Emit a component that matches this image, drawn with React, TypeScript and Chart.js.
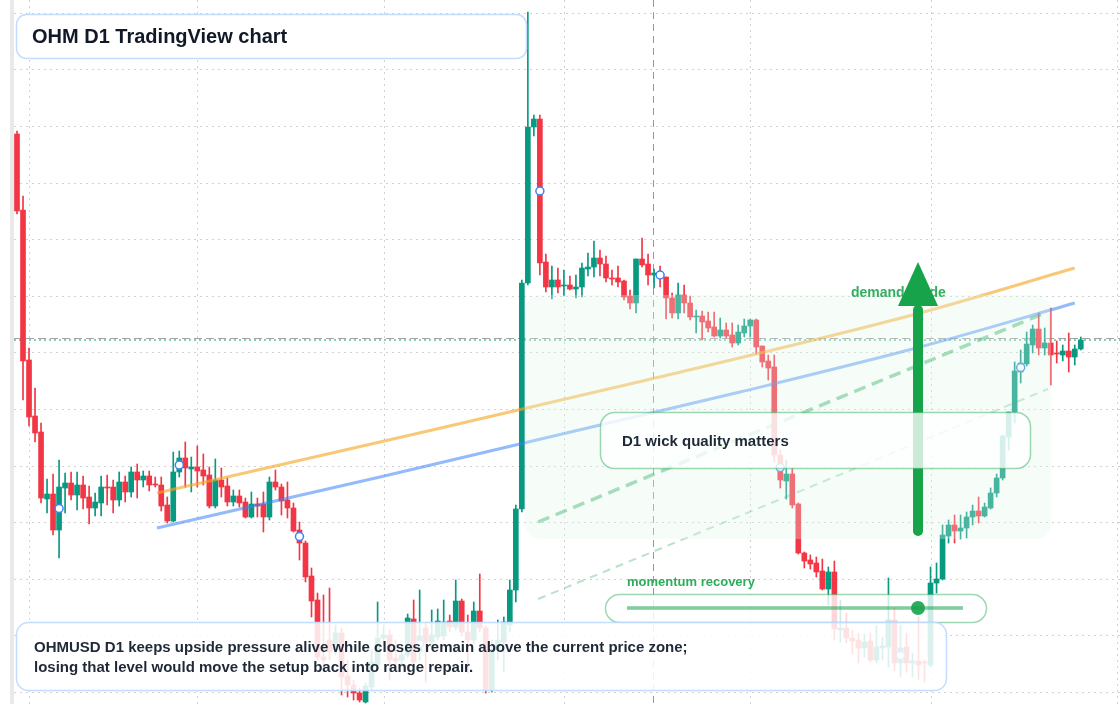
import React, { useEffect, useRef } from 'react';
import { Chart, registerables } from 'chart.js';

Chart.register(...registerables);

// ---- data (daily candles, first candle 2025-01-30) ----
const FIRST_DAY = '2025-01-30';

const openP = [
  17.32, 15.80, 12.80, 11.68, 11.36, 10.02, 10.12, 9.40, 10.24, 10.34,
  10.10, 10.30, 10.06, 9.84, 9.94, 10.26, 10.26, 10.00, 10.36, 10.16,
  10.56, 10.40, 10.48, 10.32, 10.30, 9.90, 9.58, 10.56, 10.84, 10.62,
  10.66, 10.60, 10.50, 9.88, 10.40, 10.28, 9.96, 10.08, 9.96, 9.66,
  9.92, 9.92, 9.66, 10.36, 10.26, 10.00, 9.84, 9.40, 9.14, 8.48,
  8.00, 6.86, 7.20, 7.00, 7.34, 6.48, 6.30, 6.14, 5.96, 6.26,
  6.70, 7.24, 7.30, 6.84, 6.80, 6.90, 7.62, 6.96, 7.44, 7.16,
  7.26, 7.28, 7.58, 7.46, 7.98, 7.36, 7.20, 7.78, 7.44, 6.20,
  7.00, 7.16, 7.50, 8.20, 9.82, 14.34, 17.46, 17.62, 14.76, 14.26,
  14.40, 14.28, 14.30, 14.22, 14.26, 14.62, 14.66, 14.84, 14.72, 14.44,
  14.44, 14.38, 14.08, 13.94, 14.82, 14.72, 14.50, 14.56, 14.46, 14.04,
  13.74, 14.10, 13.94, 13.66, 13.68, 13.58, 13.46, 13.28, 13.40, 13.30,
  13.14, 13.34, 13.48, 13.60, 13.08, 12.78, 12.66, 10.90, 10.38, 10.52,
  9.92, 8.94, 8.80, 8.74, 8.58, 8.22, 8.56, 7.40, 7.44, 7.24,
  7.20, 7.04, 7.18, 6.80, 7.04, 7.06, 7.60, 6.74, 7.06, 6.74,
  6.78, 6.76, 6.70, 8.34, 8.42, 9.28, 9.50, 9.38, 9.44, 9.66,
  9.78, 9.68, 9.84, 10.14, 10.44, 11.26, 11.76, 12.56, 12.72, 13.10,
  13.42, 13.04, 13.14, 12.94, 12.90, 12.98, 12.86, 13.02,
];

const highP = [
  17.38, 16.08, 13.04, 12.24, 11.54, 10.42, 10.52, 10.80, 10.54, 10.56,
  10.56, 10.48, 10.28, 10.14, 10.48, 10.50, 10.40, 10.56, 10.48, 10.66,
  10.72, 10.58, 10.58, 10.46, 10.46, 10.06, 10.96, 10.98, 11.16, 10.86,
  11.08, 10.92, 10.66, 10.82, 10.64, 10.44, 10.20, 10.20, 10.04, 10.16,
  10.04, 10.16, 10.46, 10.60, 10.32, 10.36, 9.94, 9.56, 9.18, 8.64,
  8.14, 8.10, 8.24, 7.50, 7.44, 6.80, 6.40, 6.24, 6.34, 7.00,
  7.96, 7.50, 7.40, 7.20, 7.10, 7.72, 8.00, 8.20, 7.54, 7.80,
  7.82, 8.00, 7.70, 8.40, 8.02, 7.70, 7.96, 8.52, 7.48, 7.20,
  7.60, 7.66, 8.40, 9.90, 14.40, 19.76, 17.70, 17.70, 14.92, 14.68,
  14.64, 14.60, 14.48, 14.50, 14.74, 14.94, 15.18, 15.00, 14.88, 14.60,
  14.68, 14.40, 14.20, 14.82, 15.24, 14.92, 14.62, 14.68, 14.46, 14.14,
  14.34, 14.30, 14.08, 13.80, 13.78, 13.76, 13.76, 13.64, 13.54, 13.54,
  13.50, 13.62, 13.62, 13.62, 13.08, 12.90, 12.90, 11.00, 10.80, 10.64,
  9.94, 8.96, 8.90, 8.86, 8.82, 8.66, 8.78, 8.00, 7.74, 7.40,
  7.34, 7.32, 7.34, 7.48, 7.26, 8.44, 7.84, 7.50, 7.34, 6.94,
  7.66, 6.80, 8.66, 8.74, 9.50, 9.60, 9.70, 9.70, 9.76, 9.90,
  10.06, 9.94, 10.24, 10.52, 11.30, 11.76, 12.76, 13.00, 13.36, 13.50,
  13.74, 13.44, 13.84, 13.18, 13.10, 13.34, 13.10, 13.26,
];

const lowP = [
  15.72, 12.00, 11.48, 11.16, 9.94, 9.74, 9.30, 8.84, 9.74, 10.00,
  9.80, 9.82, 9.52, 9.68, 9.68, 9.90, 9.74, 9.88, 9.96, 10.06,
  10.04, 10.26, 10.18, 10.26, 9.78, 9.54, 9.56, 10.46, 10.26, 10.16,
  10.26, 10.30, 9.84, 9.84, 10.06, 9.88, 9.88, 9.86, 9.64, 9.64,
  9.66, 9.36, 9.60, 10.20, 9.70, 9.64, 9.36, 8.80, 8.36, 7.66,
  6.80, 6.64, 6.80, 6.90, 6.10, 6.06, 6.00, 5.96, 5.94, 6.20,
  6.64, 7.10, 6.40, 6.64, 6.70, 6.86, 6.70, 6.80, 6.36, 7.08,
  7.20, 7.20, 7.36, 7.40, 7.28, 6.54, 7.12, 7.36, 6.14, 6.16,
  6.80, 6.56, 7.36, 7.96, 9.76, 14.30, 17.28, 14.50, 14.16, 14.02,
  14.14, 14.08, 14.20, 14.04, 14.06, 14.48, 14.46, 14.48, 14.36, 14.30,
  14.26, 14.00, 13.82, 13.74, 14.66, 14.30, 14.24, 14.26, 13.62, 13.64,
  13.62, 13.74, 13.60, 13.34, 13.20, 13.36, 13.26, 13.24, 13.24, 13.06,
  13.10, 13.26, 13.26, 12.92, 12.66, 12.40, 10.76, 10.24, 10.02, 9.84,
  8.92, 8.64, 8.62, 8.46, 8.20, 7.90, 7.20, 7.16, 7.14, 6.92,
  6.74, 6.86, 6.76, 6.74, 6.80, 6.66, 6.58, 6.46, 6.56, 6.46,
  6.40, 6.36, 6.66, 8.14, 8.40, 9.14, 9.14, 9.22, 9.24, 9.50,
  9.54, 9.66, 9.82, 10.06, 10.40, 11.00, 11.54, 12.34, 12.68, 12.94,
  12.90, 12.90, 12.30, 12.74, 12.78, 12.56, 12.70, 13.00,
];

const closeP = [
  15.78, 12.78, 11.66, 11.34, 10.04, 10.12, 9.40, 10.26, 10.34, 10.10,
  10.30, 10.04, 9.84, 9.96, 10.26, 10.24, 10.00, 10.36, 10.16, 10.56,
  10.40, 10.48, 10.30, 10.30, 9.88, 9.58, 10.56, 10.84, 10.64, 10.66,
  10.58, 10.48, 9.88, 10.40, 10.26, 9.96, 10.08, 9.94, 9.66, 9.92,
  9.88, 9.66, 10.36, 10.26, 9.98, 9.84, 9.38, 9.14, 8.46, 7.98,
  6.86, 6.80, 6.96, 7.34, 6.46, 6.30, 6.14, 6.00, 6.28, 6.76,
  7.24, 7.30, 6.80, 6.78, 6.90, 7.64, 6.76, 7.28, 7.16, 7.30,
  7.58, 7.56, 7.46, 7.98, 7.36, 7.20, 7.78, 7.44, 6.20, 7.00,
  7.20, 7.56, 8.20, 9.82, 14.34, 17.46, 17.62, 14.74, 14.26, 14.40,
  14.26, 14.30, 14.22, 14.26, 14.64, 14.66, 14.84, 14.72, 14.44, 14.42,
  14.36, 14.06, 13.94, 14.82, 14.70, 14.50, 14.54, 14.44, 14.04, 13.74,
  14.10, 13.94, 13.66, 13.68, 13.56, 13.44, 13.28, 13.40, 13.28, 13.14,
  13.36, 13.48, 13.60, 13.06, 12.76, 12.64, 10.90, 10.40, 10.52, 9.90,
  8.94, 8.78, 8.72, 8.56, 8.22, 8.56, 7.42, 7.44, 7.24, 7.18,
  7.04, 7.16, 6.80, 7.06, 7.08, 7.60, 6.74, 7.04, 6.74, 6.78,
  6.70, 6.74, 8.34, 8.42, 9.30, 9.50, 9.38, 9.44, 9.66, 9.78,
  9.68, 9.86, 10.14, 10.44, 11.28, 11.76, 12.58, 12.74, 13.12, 13.42,
  13.04, 13.14, 12.90, 12.92, 12.98, 12.86, 13.02, 13.20,
];

// candles that carry a blue swing marker (every 20th bar)
const markerIdx = [7, 27, 47, 67, 87, 107, 127, 147, 167];

// trend guides (x = bar index, y = price)
const orangeTrend = [
  { x: 23.3, y: 10.14 }, { x: 60.4, y: 11.16 }, { x: 104.8, y: 12.40 },
  { x: 150.25, y: 13.74 }, { x: 176.0, y: 14.64 },
];
const blueTrend = [
  { x: 23.3, y: 9.44 }, { x: 60.4, y: 10.46 }, { x: 120.3, y: 12.16 },
  { x: 150.25, y: 13.06 }, { x: 176.0, y: 13.94 },
];
const greenGuide = [{ x: 86.7, y: 9.56 }, { x: 171.4, y: 13.76 }];
const greenGuideLow = [{ x: 86.7, y: 8.02 }, { x: 171.55, y: 12.22 }];

// horizontal grid levels, month-start bar indices (Feb..Aug)
const gridLevels = [19.744, 18.612, 17.48, 16.348, 15.216, 14.084, 12.952, 11.82, 10.688, 9.556, 8.424, 7.292, 6.16];
const monthStartIdx = [2, 30, 61, 91, 122, 152, 183];
const monthLabels = ['Feb', 'Mar', 'Apr', 'May', 'Jun', 'Jul', 'Aug'];

const refLevel = 13.23;
const focusIdx = 105.9;
const demandZone = { x0: 84.53, x1: 172.05, top: 14.10, bottom: 9.22 };
const arrowGuide = { x: 149.92, from: 9.38, headBase: 13.88, tip: 14.76 };

const X_MIN = -2.8286;
const X_MAX = 183.527;
const Y_MIN = 5.92;
const Y_MAX = 20;

const UP = '#089981';
const DOWN = '#f23645';
const FONT = "'Liberation Sans', Arial, Helvetica, sans-serif";

const overlayPlugin = {
  id: 'ohmOverlay',
  beforeDatasetsDraw(chart: any) {
    const { ctx, width, height } = chart;
    const xs = chart.scales.x;
    const ys = chart.scales.y;
    ctx.save();
    ctx.fillStyle = '#ffffff';
    ctx.fillRect(0, 0, width, height);
    ctx.fillStyle = '#e9e9e9';
    ctx.fillRect(10, 0, 4, height);

    ctx.strokeStyle = 'rgba(0,0,0,0.18)';
    ctx.lineWidth = 1;
    ctx.setLineDash([2, 4]);
    gridLevels.forEach((v) => {
      const py = Math.round(ys.getPixelForValue(v)) + 0.5;
      ctx.beginPath();
      ctx.moveTo(14, py);
      ctx.lineTo(width, py);
      ctx.stroke();
    });
    monthStartIdx.forEach((i) => {
      const px = Math.round(xs.getPixelForValue(i)) + 0.5;
      ctx.beginPath();
      ctx.moveTo(px, 0);
      ctx.lineTo(px, height);
      ctx.stroke();
    });

    // focus day
    ctx.strokeStyle = 'rgba(120,120,120,0.75)';
    ctx.setLineDash([7, 5]);
    const fx = Math.round(xs.getPixelForValue(focusIdx)) + 0.5;
    ctx.beginPath();
    ctx.moveTo(fx, 0);
    ctx.lineTo(fx, height);
    ctx.stroke();

    // reference level + last price
    const ry = ys.getPixelForValue(refLevel);
    ctx.strokeStyle = 'rgba(140,140,140,0.8)';
    ctx.setLineDash([8, 4]);
    ctx.beginPath();
    ctx.moveTo(14, ry);
    ctx.lineTo(width, ry);
    ctx.stroke();
    const ly = ys.getPixelForValue(closeP[closeP.length - 1]);
    ctx.strokeStyle = UP;
    ctx.lineWidth = 1.2;
    ctx.setLineDash([2, 3]);
    ctx.beginPath();
    ctx.moveTo(14, ly);
    ctx.lineTo(width, ly);
    ctx.stroke();
    ctx.restore();
  },
  afterDatasetsDraw(chart: any) {
    const { ctx } = chart;
    const xs = chart.scales.x;
    const ys = chart.scales.y;
    ctx.save();
    ctx.setLineDash([]);

    // demand zone
    const zx0 = xs.getPixelForValue(demandZone.x0);
    const zx1 = xs.getPixelForValue(demandZone.x1);
    const zy0 = ys.getPixelForValue(demandZone.top);
    const zy1 = ys.getPixelForValue(demandZone.bottom);
    ctx.beginPath();
    ctx.roundRect(zx0, zy0, zx1 - zx0, zy1 - zy0, 16);
    ctx.fillStyle = 'rgba(225,250,234,0.3)';
    ctx.fill();

    // demand guide label
    ctx.font = `bold 14px ${FONT}`;
    ctx.textBaseline = 'middle';
    ctx.fillStyle = 'rgba(22,163,74,0.88)';
    ctx.fillText('demand guide', 851, 293);

    // arrow
    const ax = xs.getPixelForValue(arrowGuide.x);
    const aFrom = ys.getPixelForValue(arrowGuide.from);
    const aBase = ys.getPixelForValue(arrowGuide.headBase);
    const aTip = ys.getPixelForValue(arrowGuide.tip);
    ctx.strokeStyle = '#16a34a';
    ctx.lineWidth = 10;
    ctx.lineCap = 'round';
    ctx.beginPath();
    ctx.moveTo(ax, aFrom);
    ctx.lineTo(ax, aBase + 4);
    ctx.stroke();
    ctx.fillStyle = '#16a34a';
    ctx.beginPath();
    ctx.moveTo(ax, aTip);
    ctx.lineTo(ax + 20, aBase);
    ctx.lineTo(ax - 20, aBase);
    ctx.closePath();
    ctx.fill();
    ctx.lineCap = 'butt';

    // wick quality box
    ctx.beginPath();
    ctx.roundRect(600.5, 412.5, 430, 56, 14);
    ctx.fillStyle = 'rgba(255,255,255,0.78)';
    ctx.fill();
    ctx.strokeStyle = 'rgba(22,163,74,0.42)';
    ctx.lineWidth = 1.5;
    ctx.stroke();
    ctx.fillStyle = '#1f2937';
    ctx.font = `bold 15px ${FONT}`;
    ctx.fillText('D1 wick quality matters', 622, 442);

    // momentum recovery
    ctx.font = `bold 13px ${FONT}`;
    ctx.fillStyle = 'rgba(22,163,74,0.9)';
    ctx.fillText('momentum recovery', 627, 582);
    ctx.beginPath();
    ctx.roundRect(605.5, 594.5, 381, 28, 14);
    ctx.fillStyle = 'rgba(255,255,255,0.8)';
    ctx.fill();
    ctx.strokeStyle = 'rgba(22,163,74,0.42)';
    ctx.lineWidth = 1.5;
    ctx.stroke();
    ctx.strokeStyle = 'rgba(22,163,74,0.55)';
    ctx.lineWidth = 3.5;
    ctx.beginPath();
    ctx.moveTo(627, 608);
    ctx.lineTo(963, 608);
    ctx.stroke();
    ctx.fillStyle = 'rgba(22,163,74,0.9)';
    ctx.beginPath();
    ctx.arc(918, 608, 7, 0, Math.PI * 2);
    ctx.fill();

    // bottom note
    ctx.beginPath();
    ctx.roundRect(16.5, 622.5, 930, 68, 12);
    ctx.fillStyle = 'rgba(255,255,255,0.86)';
    ctx.fill();
    ctx.strokeStyle = 'rgba(191,219,254,0.95)';
    ctx.lineWidth = 1.5;
    ctx.stroke();
    ctx.fillStyle = '#1f2937';
    ctx.font = `bold 15px ${FONT}`;
    ctx.fillText('OHMUSD D1 keeps upside pressure alive while closes remain above the current price zone;', 34, 648);
    ctx.fillText('losing that level would move the setup back into range repair.', 34, 668);

    // title
    ctx.beginPath();
    ctx.roundRect(16.5, 14.5, 510, 44, 10);
    ctx.fillStyle = 'rgba(255,255,255,0.92)';
    ctx.fill();
    ctx.strokeStyle = 'rgba(191,219,254,0.95)';
    ctx.lineWidth = 1.5;
    ctx.stroke();
    ctx.fillStyle = '#111827';
    ctx.font = `bold 20px ${FONT}`;
    ctx.fillText('OHM D1 TradingView chart', 32, 37);

    ctx.restore();
  },
};

export default function App() {
  const canvasRef = useRef<HTMLCanvasElement | null>(null);

  useEffect(() => {
    document.body.style.margin = '0';
    const canvas = canvasRef.current;
    if (!canvas) return;
    const idx = openP.map((_, i) => i);
    const colors = idx.map((i) => (closeP[i] >= openP[i] ? UP : DOWN));
    const chart = new Chart(canvas, {
      type: 'bar',
      data: {
        datasets: [
          {
            type: 'line',
            label: 'swing markers',
            data: markerIdx.map((i) => ({ x: i, y: (openP[i] + closeP[i]) / 2 })),
            showLine: false,
            pointRadius: 4,
            pointBorderWidth: 1.5,
            pointBorderColor: '#3b82f6',
            pointBackgroundColor: '#ffffff',
            clip: false,
            order: 0,
          } as any,
          {
            type: 'line',
            label: 'upper trend',
            data: orangeTrend,
            borderColor: 'rgba(245,166,35,0.62)',
            borderWidth: 3,
            pointRadius: 0,
            cubicInterpolationMode: 'monotone',
            fill: false,
            order: 1,
          } as any,
          {
            type: 'line',
            label: 'lower trend',
            data: blueTrend,
            borderColor: 'rgba(59,130,246,0.55)',
            borderWidth: 3,
            pointRadius: 0,
            cubicInterpolationMode: 'monotone',
            fill: false,
            order: 1,
          } as any,
          {
            type: 'line',
            label: 'demand guide',
            data: greenGuide,
            borderColor: 'rgba(22,163,74,0.5)',
            borderWidth: 3.5,
            borderDash: [12, 7],
            pointRadius: 0,
            fill: false,
            order: 2,
          } as any,
          {
            type: 'line',
            label: 'demand guide low',
            data: greenGuideLow,
            borderColor: 'rgba(22,163,74,0.3)',
            borderWidth: 2,
            borderDash: [8, 6],
            pointRadius: 0,
            fill: false,
            order: 2,
          } as any,
          {
            type: 'bar',
            label: 'body',
            data: idx.map((i) => ({ x: i, y: [openP[i], closeP[i]] })),
            backgroundColor: colors,
            borderWidth: 0,
            barThickness: 5,
            minBarLength: 1,
            grouped: false,
            order: 3,
          } as any,
          {
            type: 'bar',
            label: 'wick',
            data: idx.map((i) => ({ x: i, y: [lowP[i], highP[i]] })),
            backgroundColor: colors,
            borderWidth: 0,
            barThickness: 1,
            grouped: false,
            order: 4,
          } as any,
        ],
      },
      options: {
        animation: false,
        responsive: false,
        events: [],
        layout: { padding: 0, autoPadding: false },
        plugins: {
          legend: { display: false },
          tooltip: { enabled: false },
        },
        scales: {
          x: { type: 'linear', min: X_MIN, max: X_MAX, display: false, offset: false },
          y: { type: 'linear', min: Y_MIN, max: Y_MAX, display: false },
        },
      } as any,
      plugins: [overlayPlugin],
    });
    return () => chart.destroy();
  }, []);

  return (
    <div style={{ width: 1120, height: 704, position: 'relative', background: '#fff' }} data-start={FIRST_DAY} data-months={monthLabels.join(',')}>
      <canvas ref={canvasRef} width={1120} height={704} />
    </div>
  );
}
